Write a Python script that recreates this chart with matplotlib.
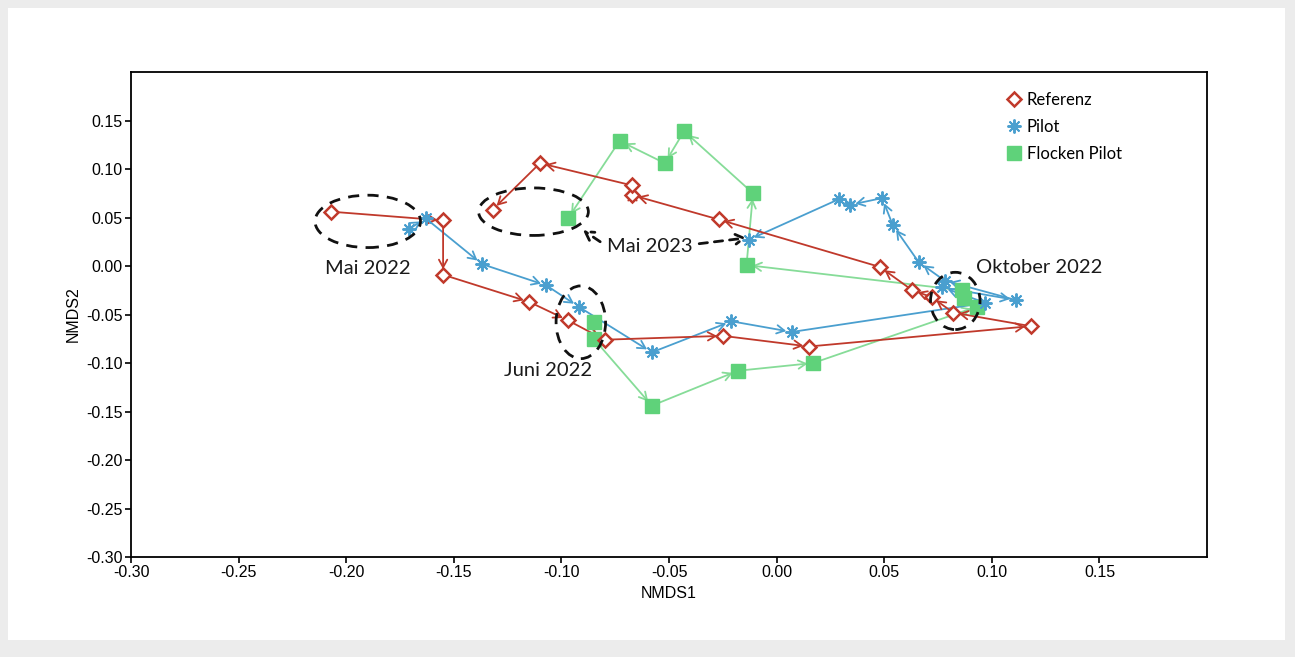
import matplotlib.pyplot as plt
from matplotlib.patches import Ellipse, Rectangle

# --------------------
# NMDS coordinates (in path order)

ref_x = [-0.207, -0.155, -0.155, -0.115, -0.097, -0.080, -0.025, 0.015, 0.118,
         0.082, 0.072, 0.063, 0.048, -0.027, -0.067, -0.067, -0.110, -0.132]
ref_y = [0.056, 0.047, -0.009, -0.037, -0.056, -0.076, -0.072, -0.083, -0.062,
         -0.048, -0.032, -0.025, -0.001, 0.048, 0.073, 0.083, 0.106, 0.058]

pil_x = [-0.171, -0.163, -0.137, -0.107, -0.092, -0.058, -0.021, 0.007, 0.097,
         0.077, 0.111, 0.078, 0.066, 0.054, 0.049, 0.034, 0.029, -0.013]
pil_y = [0.038, 0.049, 0.002, -0.020, -0.042, -0.089, -0.057, -0.068, -0.038,
         -0.022, -0.035, -0.015, 0.004, 0.042, 0.070, 0.063, 0.069, 0.027]

fl_x = [-0.085, -0.085, -0.058, -0.018, 0.017, 0.093, 0.087, 0.086,
        -0.014, -0.011, -0.043, -0.052, -0.073, -0.097]
fl_y = [-0.058, -0.075, -0.144, -0.108, -0.100, -0.042, -0.033, -0.025,
        0.001, 0.075, 0.139, 0.106, 0.129, 0.049]

x_ticks = [-0.30, -0.25, -0.20, -0.15, -0.10, -0.05, 0.00, 0.05, 0.10, 0.15]
y_ticks = [-0.30, -0.25, -0.20, -0.15, -0.10, -0.05, 0.00, 0.05, 0.10, 0.15]

# --------------------

RED = "#c0392b"
BLUE = "#4a9fcf"
GREEN = "#86dc98"
GREEN_M = "#5fd27a"

fig = plt.figure(figsize = (12.95, 6.57), dpi = 100, facecolor = "#ececec")
fig.patches.append(Rectangle((8 / 1295, 17 / 657), 1277 / 1295, 632 / 657,
                             transform = fig.transFigure, facecolor = "white",
                             edgecolor = "none", zorder = -10))
ax = fig.add_axes([0.1012, 0.1522, 0.8309, 0.7382])


def draw_path(xs, ys, color, z):
    for i in range(len(xs) - 1):
        ax.annotate("", xy = (xs[i + 1], ys[i + 1]), xytext = (xs[i], ys[i]),
                    arrowprops = dict(arrowstyle = "->,head_length=0.55,head_width=0.3",
                                      color = color, lw = 1.3, shrinkA = 0, shrinkB = 4),
                    zorder = z)


draw_path(fl_x, fl_y, GREEN, 2)
draw_path(pil_x, pil_y, BLUE, 3)
draw_path(ref_x, ref_y, RED, 4)

ax.plot(fl_x, fl_y, ls = "none", marker = "s", ms = 10, color = GREEN_M,
        mec = GREEN_M, zorder = 5, label = "Flocken Pilot")
ax.plot(pil_x, pil_y, ls = "none", marker = (8, 2, 0), ms = 10, mew = 1.4,
        color = BLUE, zorder = 6, label = "Pilot")
ax.plot(ref_x, ref_y, ls = "none", marker = "D", ms = 7.5, mew = 1.8,
        mfc = "white", mec = RED, zorder = 7, label = "Referenz")

# dashed highlight ellipses
for cx, cy, w, h in [(-0.190, 0.046, 0.049, 0.054), (-0.113, 0.056, 0.051, 0.049),
                     (-0.091, -0.058, 0.023, 0.075), (0.083, -0.036, 0.023, 0.059)]:
    ax.add_patch(Ellipse((cx, cy), w, h, fill = False, ls = (0, (4, 3)),
                         lw = 2, ec = "#111111", zorder = 8))

lab_font = dict(family = "Lato", fontsize = 14.5, color = "#1a1a1a", zorder = 9)
ax.text(-0.190, -0.003, "Mai 2022", ha = "center", va = "center", **lab_font)
ax.text(-0.059, 0.020, "Mai 2023", ha = "center", va = "center", **lab_font)
ax.text(-0.106, -0.108, "Juni 2022", ha = "center", va = "center", **lab_font)
ax.text(0.122, -0.002, "Oktober 2022", ha = "center", va = "center", **lab_font)

dash_arrow = dict(arrowstyle = "->,head_length=0.6,head_width=0.35", ls = (0, (3, 2.5)),
                  lw = 2, color = "#111111", shrinkA = 0, shrinkB = 0)
ax.annotate("", xy = (-0.090, 0.037), xytext = (-0.082, 0.025), arrowprops = dash_arrow, zorder = 9)
ax.annotate("", xy = (-0.014, 0.029), xytext = (-0.036, 0.023), arrowprops = dash_arrow, zorder = 9)

ax.set_xlim(-0.30, 0.20)
ax.set_ylim(-0.30, 0.20)
ax.set_xticks(x_ticks)
ax.set_yticks(y_ticks)
ax.set_xticklabels([f"{t:.2f}" for t in x_ticks], family = "Liberation Sans", fontsize = 11.5)
ax.set_yticklabels([f"{t:.2f}" for t in y_ticks], family = "Liberation Sans", fontsize = 11.5)
ax.tick_params(direction = "out", length = 4, width = 1.2, pad = 2)
for s in ax.spines.values():
    s.set_linewidth(1.3)
ax.set_xlabel("NMDS1", family = "Liberation Sans", fontsize = 11.5, labelpad = 4)
ax.set_ylabel("NMDS2", family = "Liberation Sans", fontsize = 11.5, labelpad = 4)

h, l = ax.get_legend_handles_labels()
ax.legend(h[::-1], l[::-1], loc = "upper left", bbox_to_anchor = (0.797, 0.99),
          frameon = False, prop = dict(family = "Lato", size = 12),
          handletextpad = 0.2, labelspacing = 0.65, handlelength = 1.2)

fig.savefig("out.png", dpi = 100, facecolor = fig.get_facecolor())
